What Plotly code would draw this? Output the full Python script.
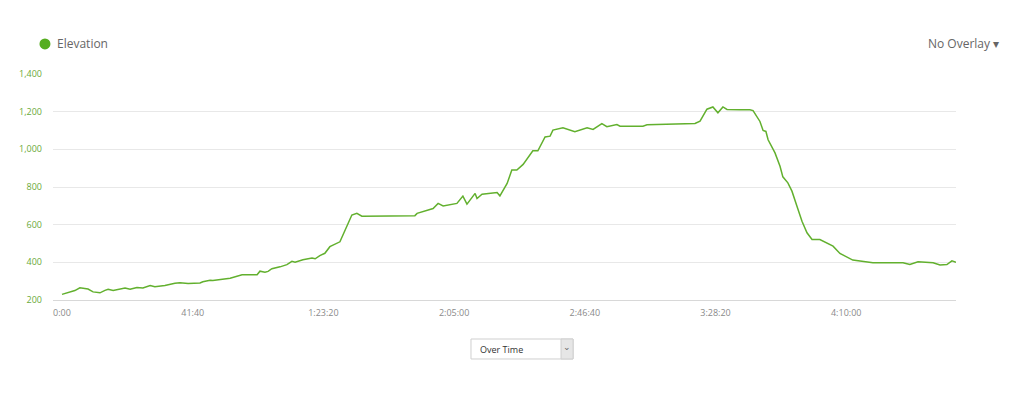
import plotly.graph_objects as go

# elevation profile, time in minutes from start
MINUTES = [0, 2.6, 4.1, 5.7, 7.3, 8.3, 9.9, 12.1, 13.7, 14.7, 16.3, 18.5, 20.1, 21.7,
           23.9, 25.8, 28.1, 29.6, 32.8, 36.0, 37.6, 40.2, 44.0, 44.9, 47.2, 48.1,
           50.4, 52.6, 53.6, 57.4, 62.2, 63.1, 64.7, 65.7, 66.9, 69.5, 71.7, 73.3,
           74.3, 76.8, 79.7, 80.7, 82.2, 83.8, 85.4, 88.6, 90.9, 92.4, 94.0, 95.6,
           104.6, 112.5, 113.2, 118.3, 119.9, 121.5, 125.9, 127.8, 129.1, 131.7,
           132.3, 133.9, 138.7, 139.6, 141.9, 143.4, 145.0, 147.0, 150.1, 151.7,
           154.0, 155.6, 156.5, 159.7, 163.5, 167.4, 169.3, 172.1, 173.7, 176.9,
           177.9, 185.2, 186.5, 194.8, 201.8, 203.4, 205.6, 207.5, 209.1, 210.7,
           212.0, 216.1, 219.3, 220.3, 222.5, 223.5, 224.4, 225.1, 226.3, 227.3,
           228.9, 229.8, 231.4, 232.7, 234.3, 235.9, 237.5, 239.1, 241.6, 243.9,
           245.8, 248.0, 250.5, 252.1, 258.5, 268.1, 270.3, 272.9, 277.7, 279.9,
           282.1, 283.7, 285.0]
ELEVATION = [230, 241, 250, 265, 262, 258, 243, 238, 251, 257, 250, 257, 263, 257,
             266, 264, 277, 270, 277, 289, 292, 288, 290, 297, 305, 303,
             309, 312, 316, 334, 334, 353, 348, 352, 366, 376, 388, 405,
             400, 414, 423, 419, 436, 448, 483, 509, 590, 651, 660, 645,
             646, 648, 660, 686, 713, 699, 713, 752, 709, 766,
             739, 762, 771, 753, 819, 890, 890, 920, 992, 992,
             1066, 1070, 1102, 1114, 1093, 1114, 1106, 1137, 1120, 1132,
             1123, 1123, 1130, 1133, 1137, 1150, 1213, 1225, 1194, 1225,
             1212, 1210, 1210, 1206, 1148, 1100, 1095, 1051, 1016, 981,
             910, 854, 822, 778, 698, 618, 557, 521, 521, 500,
             486, 447, 425, 412, 398, 398, 389, 403, 398, 386,
             388, 408, 400]

X_TICKS = [0, 41 + 40 / 60, 83 + 20 / 60, 125, 166 + 40 / 60, 208 + 20 / 60, 250]
X_TICK_TEXT = ["0:00", "41:40", "1:23:20", "2:05:00", "2:46:40", "3:28:20", "4:10:00"]
Y_TICKS = [200, 400, 600, 800, 1000, 1200, 1400]

GREEN = "#62b02e"
FONT = "Open Sans"

fig = go.Figure(go.Scatter(x=MINUTES, y=ELEVATION, mode="lines",
                           line=dict(color=GREEN, width=1.5), showlegend=False))

# page body adds an 8px margin, so the figure is sized to fit inside it
fig.update_layout(
    width=1008, height=398,
    margin=dict(l=45, r=60, t=66, b=106),
    paper_bgcolor="white", plot_bgcolor="white",
    font=dict(family=FONT),
    shapes=[
        # legend dot
        dict(type="circle", xref="paper", yref="paper", xsizemode="pixel", ysizemode="pixel",
             xanchor=-0.0089, yanchor=1.133, x0=-5.5, x1=5.5, y0=-5.5, y1=5.5,
             fillcolor="#55ad1f", line=dict(width=0)),
        # dropdown box
        dict(type="rect", xref="paper", yref="paper", x0=0.4629, x1=0.5759, y0=-0.261, y1=-0.1726,
             fillcolor="white", line=dict(color="#cfcfcf", width=1)),
        dict(type="rect", xref="paper", yref="paper", x0=0.5626, x1=0.5759, y0=-0.261, y1=-0.1726,
             fillcolor="#e6e6e6", line=dict(color="#cfcfcf", width=1)),
    ],
    annotations=[
        dict(text="Elevation", xref="paper", yref="paper", x=0.0022, y=1.133,
             xanchor="left", yanchor="middle", showarrow=False,
             font=dict(size=12, color="#666")),
        dict(text="No Overlay ▾", xref="paper", yref="paper", x=1.05, y=1.133,
             xanchor="right", yanchor="middle", showarrow=False,
             font=dict(size=12, color="#666")),
        dict(text="Over Time", xref="paper", yref="paper", x=0.471, y=-0.217,
             xanchor="left", yanchor="middle", showarrow=False,
             font=dict(size=9, color="#333")),
        dict(text="⌄", xref="paper", yref="paper", x=0.5692, y=-0.205,
             xanchor="center", yanchor="middle", showarrow=False,
             font=dict(size=9, color="#666")),
    ],
)

fig.update_xaxes(range=[-2.87, 285], tickvals=X_TICKS, ticktext=X_TICK_TEXT,
                 showgrid=False, zeroline=False, showline=True, linecolor="#d8d8d8",
                 ticks="", tickfont=dict(size=9, color="#8a8a8a"), ticklabelstandoff=4)
fig.update_yaxes(range=[200, 1400], tickvals=Y_TICKS, tickformat=",",
                 showgrid=True, gridcolor="#e8e8e8", zeroline=False, showline=False,
                 ticks="", tickfont=dict(size=9, color="#6aaa3a"), ticklabelstandoff=10)

fig.write_html("out.html")
